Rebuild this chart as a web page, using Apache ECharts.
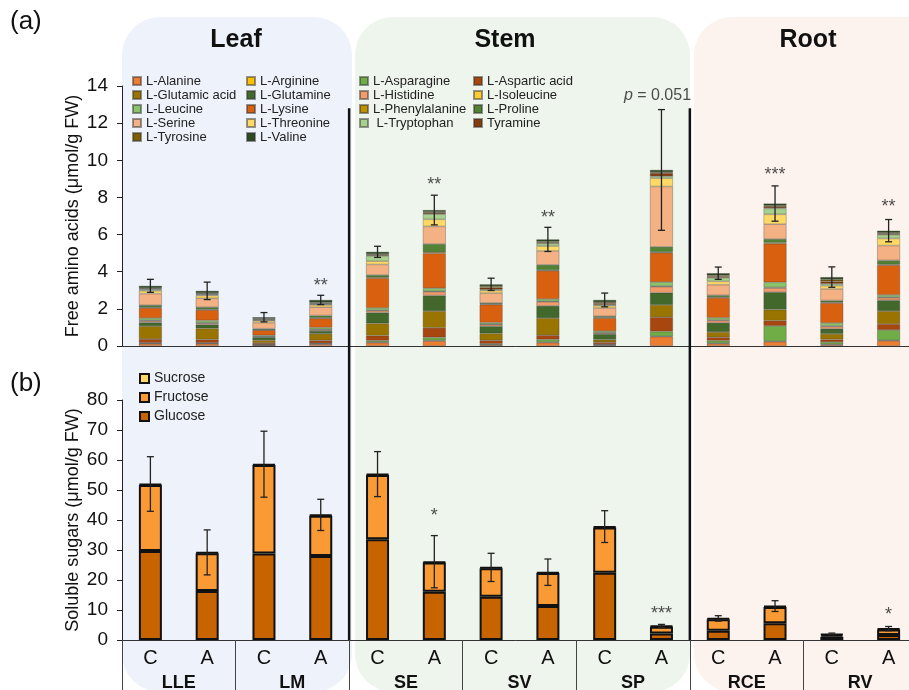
<!DOCTYPE html>
<html><head><meta charset="utf-8">
<script src="https://cdn.jsdelivr.net/npm/echarts@6/dist/echarts.min.js"></script>
<style>html,body{margin:0;padding:0;background:#fff}#c{width:909px;height:690px}</style>
</head><body><div id="c"></div>
<script>
// ---------- data ----------
const samples = ['C','A','C','A','C','A','C','A','C','A','C','A','C','A'];
const groups = ['LLE','LM','SE','SV','SP','RCE','RV'];
const aaYTicks = {min:0, max:14, interval:2};
const sugarYTicks = {min:0, max:80, interval:10};

// amino acids (µmol/g FW), bars: LLE C, LLE A, LM C, LM A, SE C, SE A, SV C, SV A, SP C, SP A, RCE C, RCE A, RV C, RV A
const alanine      = [0.12,0.12,0.05,0.10,0.18,0.27,0.06,0.18,0.05,0.50,0.12,0.23,0.06,0.28];
const arginine     = [0.02,0.02,0.01,0.02,0.03,0.03,0.02,0.03,0.02,0.03,0.03,0.03,0.03,0.03];
const asparagine   = [0.03,0.03,0.02,0.03,0.08,0.16,0.04,0.14,0.03,0.25,0.14,0.82,0.12,0.55];
const asparticAcid = [0.20,0.18,0.08,0.15,0.27,0.52,0.18,0.23,0.10,0.77,0.18,0.28,0.14,0.32];
const glutamicAcid = [0.70,0.60,0.15,0.36,0.66,0.90,0.38,0.92,0.14,0.66,0.28,0.60,0.30,0.70];
const glutamine    = [0.20,0.20,0.15,0.15,0.58,0.84,0.38,0.66,0.30,0.66,0.50,0.94,0.28,0.58];
const histidine    = [0.08,0.07,0.03,0.06,0.10,0.20,0.10,0.22,0.06,0.32,0.12,0.22,0.12,0.14];
const isoleucine   = [0.03,0.03,0.02,0.02,0.03,0.03,0.02,0.03,0.02,0.03,0.03,0.03,0.03,0.03];
const leucine      = [0.12,0.12,0.06,0.10,0.12,0.16,0.08,0.12,0.08,0.22,0.12,0.28,0.16,0.12];
const lysine       = [0.55,0.57,0.28,0.50,1.60,1.88,0.97,1.52,0.70,1.58,1.07,2.08,1.07,1.60];
const phenylalanine= [0.03,0.03,0.02,0.03,0.05,0.06,0.03,0.04,0.04,0.04,0.04,0.05,0.04,0.04];
const proline      = [0.12,0.12,0.06,0.12,0.12,0.44,0.06,0.28,0.06,0.28,0.10,0.20,0.10,0.22];
const serine       = [0.62,0.48,0.33,0.45,0.57,0.95,0.53,0.75,0.45,3.25,0.57,0.80,0.62,0.80];
const threonine    = [0.15,0.15,0.10,0.12,0.18,0.38,0.14,0.26,0.12,0.45,0.18,0.53,0.18,0.38];
const tryptophan   = [0.08,0.05,0.04,0.05,0.28,0.28,0.05,0.14,0.05,0.10,0.20,0.32,0.10,0.20];
const tyramine     = [0.03,0.03,0.03,0.03,0.05,0.07,0.10,0.05,0.08,0.17,0.06,0.08,0.12,0.05];
const tyrosine     = [0.04,0.05,0.04,0.05,0.05,0.05,0.08,0.05,0.06,0.05,0.06,0.06,0.10,0.05];
const valine       = [0.12,0.12,0.08,0.14,0.12,0.10,0.10,0.12,0.12,0.12,0.12,0.12,0.14,0.12];
const aaSD         = [0.35,0.47,0.25,0.25,0.30,0.80,0.33,0.65,0.37,3.25,0.33,0.95,0.55,0.60];
const aaSigText    = ['','','','**','','**','','**','','p = 0.051','','***','','**'];
const aaSigY       = [null,null,null,3.43,null,8.9,null,7.08,null,13.5,null,9.44,null,7.72];

// soluble sugars (µmol/g FW)
const glucose  = [29.7,16.3,28.8,28.0,33.6,16.1,14.4,11.3,22.4,2.2,3.1,5.6,1.1,1.7];
const fructose = [22.0,12.6,29.5,13.4,21.4,9.7,9.5,11.0,15.1,2.2,3.8,5.4,0.6,1.8];
const sucrose  = [0.3,0.3,0.3,0.3,0.3,0.3,0.3,0.3,0.3,0.3,0.3,0.3,0.3,0.3];
const sugarSD  = [9.1,7.5,11.0,5.2,7.5,8.7,4.7,4.4,5.3,0.5,0.9,1.8,0.3,0.7];
const sugarSigText = ['','','','','','*','','','','***','','','','*'];
const sugarSigY    = [null,null,null,null,null,42.7,null,null,null,10,null,null,null,9.7];

// ---------- series definitions ----------
const FONT = '"Liberation Sans", Arial, sans-serif';
const amino = [
  ['L-Alanine', alanine, '#ED7D31'],
  ['L-Arginine', arginine, '#FFC000'],
  ['L-Asparagine', asparagine, '#70AD47'],
  ['L-Aspartic acid', asparticAcid, '#A8460F'],
  ['L-Glutamic acid', glutamicAcid, '#9A7400'],
  ['L-Glutamine', glutamine, '#43682B'],
  ['L-Histidine', histidine, '#F39C6B'],
  ['L-Isoleucine', isoleucine, '#FFCC33'],
  ['L-Leucine', leucine, '#8CC36A'],
  ['L-Lysine', lysine, '#D8600F'],
  ['L-Phenylalanine', phenylalanine, '#C09000'],
  ['L-Proline', proline, '#548235'],
  ['L-Serine', serine, '#F4B183'],
  ['L-Threonine', threonine, '#FFD966'],
  [' L-Tryptophan', tryptophan, '#A9D18E'],
  ['Tyramine', tyramine, '#843C0C'],
  ['L-Tyrosine', tyrosine, '#7F6000'],
  ['L-Valine', valine, '#2F4A1E']
];
const sugars = [
  ['Glucose', glucose, '#C86400'],
  ['Fructose', fructose, '#FA9A35'],
  ['Sucrose', sucrose, '#FFD966']
];

const aaTotal = samples.map((_, i) => amino.reduce((s, a) => s + a[1][i], 0));
const sugarTotal = samples.map((_, i) => sugars.reduce((s, a) => s + a[1][i], 0));

function errRender(params, api) {
  const x = api.value(0), lo = api.value(1), hi = api.value(2);
  const a = api.coord([x, lo]), b = api.coord([x, hi]);
  const w = 3.5, st = {stroke: '#222', lineWidth: 1.3};
  return {type: 'group', children: [
    {type: 'line', shape: {x1: a[0], y1: a[1], x2: b[0], y2: b[1]}, style: st},
    {type: 'line', shape: {x1: a[0]-w, y1: a[1], x2: a[0]+w, y2: a[1]}, style: st},
    {type: 'line', shape: {x1: b[0]-w, y1: b[1], x2: b[0]+w, y2: b[1]}, style: st}
  ]};
}

const series = [];
amino.forEach(([name, vals, color]) => series.push({
  name, type: 'bar', stack: 'aa', xAxisIndex: 0, yAxisIndex: 0, barWidth: 23,
  itemStyle: {color, borderColor: 'rgba(50,50,50,0.5)', borderWidth: 0.6},
  emphasis: {disabled: true}, data: vals
}));
series.push({type: 'custom', xAxisIndex: 0, yAxisIndex: 0, renderItem: errRender, z: 5,
  encode: {x: 0, y: [1, 2]},
  data: aaTotal.map((t, i) => [i, t - aaSD[i], t + aaSD[i]])});
series.push({type: 'scatter', xAxisIndex: 0, yAxisIndex: 0, symbolSize: 0, z: 6,
  data: aaSigText.map((t, i) => t ? {value: [i, aaSigY[i]], label: {
    show: true, position: 'inside', color: '#222', fontFamily: FONT,
    fontSize: t[0] === 'p' ? 16 : 18, offset: t[0] === 'p' ? [-4, 0] : [0, 4],
    formatter: t[0] === 'p' ? '{i|p}' + t.slice(1) : t,
    rich: {i: {fontStyle: 'italic', fontSize: 16, fontFamily: FONT, color: '#222'}}
  }} : null).filter(Boolean)});
sugars.forEach(([name, vals, color]) => series.push({
  name, type: 'bar', stack: 'sug', xAxisIndex: 1, yAxisIndex: 1, barWidth: 23,
  itemStyle: {color, borderColor: '#111', borderWidth: 2},
  emphasis: {disabled: true}, data: vals
}));
series.push({type: 'custom', xAxisIndex: 1, yAxisIndex: 1, renderItem: errRender, z: 5,
  encode: {x: 0, y: [1, 2]},
  data: sugarTotal.map((t, i) => [i, t - sugarSD[i], t + sugarSD[i]])});
series.push({type: 'scatter', xAxisIndex: 1, yAxisIndex: 1, symbolSize: 0, z: 6,
  data: sugarSigText.map((t, i) => t ? {value: [i, sugarSigY[i]], label: {
    show: true, position: 'inside', color: '#222', fontFamily: FONT, fontSize: 18,
    offset: [0, 4], formatter: t}} : null).filter(Boolean)});

function legendCol(names, left, top) {
  return {data: names, orient: 'vertical', left, top, padding: 0, itemGap: 0,
    itemWidth: 8, itemHeight: 8, itemTextGap: 6, selectedMode: false, icon: 'rect',
    textStyle: {fontSize: 13, lineHeight: 14, color: '#222', fontFamily: FONT}};
}

const yAxisCommon = {
  type: 'value', nameLocation: 'middle', nameGap: 40, nameMoveOverlap: false,
  nameTextStyle: {fontSize: 18, color: '#111', fontFamily: FONT},
  axisLine: {show: true, lineStyle: {color: '#222', width: 1}},
  axisTick: {show: true, length: 5, lineStyle: {color: '#222'}},
  axisLabel: {fontSize: 19, color: '#111', margin: 14, fontFamily: FONT},
  splitLine: {show: false}
};

const option = {
  backgroundColor: '#fff',
  animation: false,
  textStyle: {fontFamily: FONT},
  grid: [
    {left: 122, top: 86, width: 795, height: 260, outerBoundsMode: 'none', containLabel: false},
    {left: 122, top: 400, width: 795, height: 240, outerBoundsMode: 'none', containLabel: false}
  ],
  xAxis: [
    {type: 'category', gridIndex: 0, data: samples, axisTick: {show: false},
     axisLabel: {show: false}, axisLine: {lineStyle: {color: '#333', width: 1}}},
    {type: 'category', gridIndex: 1, data: samples, axisTick: {show: false},
     axisLabel: {fontSize: 20, color: '#111', margin: 8, fontFamily: FONT},
     axisLine: {lineStyle: {color: '#333', width: 1}}},
    {type: 'category', gridIndex: 1, data: groups, position: 'bottom',
     axisLine: {show: false},
     axisTick: {show: true, length: 50, lineStyle: {color: '#444', width: 1}},
     axisLabel: {fontSize: 18, fontWeight: 'bold', color: '#111', margin: 34, fontFamily: FONT}}
  ],
  yAxis: [
    Object.assign({}, yAxisCommon, {gridIndex: 0, name: 'Free amino acids (μmol/g FW)'}, aaYTicks),
    Object.assign({}, yAxisCommon, {gridIndex: 1, name: 'Soluble sugars (μmol/g FW)'}, sugarYTicks)
  ],
  legend: [
    legendCol(['L-Alanine','L-Glutamic acid','L-Leucine','L-Serine','L-Tyrosine'], 132, 74),
    legendCol(['L-Arginine','L-Glutamine','L-Lysine','L-Threonine','L-Valine'], 246, 74),
    legendCol(['L-Asparagine','L-Histidine','L-Phenylalanine',' L-Tryptophan'], 359, 74),
    legendCol(['L-Aspartic acid','L-Isoleucine','L-Proline','Tyramine'], 473, 74),
    {data: ['Sucrose','Fructose','Glucose'], orient: 'vertical', left: 139, top: 369, padding: 0,
     itemGap: 0, itemWidth: 9, itemHeight: 9, itemTextGap: 6, selectedMode: false, icon: 'rect',
     textStyle: {fontSize: 14, lineHeight: 19, color: '#222', fontFamily: FONT}}
  ],
  series
};

const chart = echarts.init(document.getElementById('c'), null, {renderer: 'canvas'});
chart.setOption(option);

// decorations positioned from the axes
const px = i => chart.convertToPixel({xAxisIndex: 0}, i);
const div1 = (px(3) + px(4)) / 2, div2 = (px(9) + px(10)) / 2;
const yTopLine = chart.convertToPixel({yAxisIndex: 0}, 12.8);
const yBottomLine = chart.convertToPixel({yAxisIndex: 1}, 0);
const panelTop = 17, panelBottom = 692;
chart.setOption({graphic: [
  {type: 'rect', z: -100, silent: true, shape: {x: 122, y: panelTop, width: 230, height: panelBottom - panelTop, r: 38}, style: {fill: '#EEF3FB'}},
  {type: 'rect', z: -100, silent: true, shape: {x: 355, y: panelTop, width: 335, height: panelBottom - panelTop, r: 38}, style: {fill: '#EEF5EC'}},
  {type: 'rect', z: -100, silent: true, shape: {x: 694, y: panelTop, width: 260, height: panelBottom - panelTop, r: 38}, style: {fill: '#FCF3EF'}},
  {type: 'line', z: 50, silent: true, shape: {x1: div1, y1: yTopLine, x2: div1, y2: yBottomLine}, style: {stroke: '#111', lineWidth: 2.5}},
  {type: 'line', z: 50, silent: true, shape: {x1: div2, y1: yTopLine, x2: div2, y2: yBottomLine}, style: {stroke: '#111', lineWidth: 2.5}},
  {type: 'text', z: 50, silent: true, x: 236, y: 40, style: {text: 'Leaf', font: 'bold 25px ' + FONT, fill: '#111', align: 'center', verticalAlign: 'middle'}},
  {type: 'text', z: 50, silent: true, x: 505, y: 40, style: {text: 'Stem', font: 'bold 25px ' + FONT, fill: '#111', align: 'center', verticalAlign: 'middle'}},
  {type: 'text', z: 50, silent: true, x: 808, y: 40, style: {text: 'Root', font: 'bold 25px ' + FONT, fill: '#111', align: 'center', verticalAlign: 'middle'}},
  {type: 'text', z: 50, silent: true, x: 10, y: 22, style: {text: '(a)', font: '26px ' + FONT, fill: '#111', verticalAlign: 'middle'}},
  {type: 'text', z: 50, silent: true, x: 10, y: 384, style: {text: '(b)', font: '26px ' + FONT, fill: '#111', verticalAlign: 'middle'}}
]});
</script>
</body></html>
